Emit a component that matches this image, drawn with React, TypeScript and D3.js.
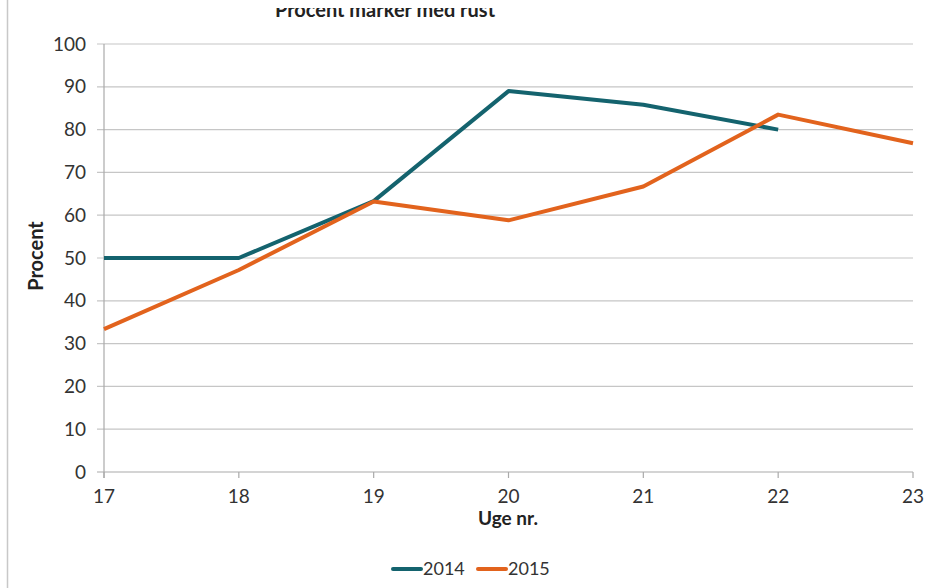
import React from "react";
import * as d3 from "d3";

const weeks = [17, 18, 19, 20, 21, 22, 23];
const yTicks = [0, 10, 20, 30, 40, 50, 60, 70, 80, 90, 100];
const series2014 = [50, 50, 63.3, 89, 85.8, 80];
const series2015 = [33.4, 47.2, 63.2, 58.8, 66.7, 83.5, 76.8];
const seriesNames = ["2014", "2015"];
const colors = ["#14636e", "#e2631d"];
const title = "Procent marker med rust";

export default function App() {
  const W = 926, H = 588;
  const left = 104, right = 913, top = 44, bottom = 472;
  const x = d3.scaleLinear().domain([17, 23]).range([left, right]);
  const y = d3.scaleLinear().domain([0, 100]).range([bottom, top]);
  const line = d3.line<number>().x((_, i) => x(weeks[i])).y((d) => y(d));
  const font = "Lato, 'Open Sans', sans-serif";
  const data = [series2014, series2015];
  return (
    <svg width={W} height={H} style={{ position: "absolute", left: 0, top: 0, background: "#fff" }}>
      <defs>
        <clipPath id="titleClip">
          <rect x={0} y={8} width={W} height={30} />
        </clipPath>
      </defs>
      <line x1={7.5} x2={7.5} y1={0} y2={H} stroke="#c8c8c8" strokeWidth={1.5} />
      <text x={385} y={17} textAnchor="middle" fontFamily={font} fontWeight="bold" fontSize={20} fill="#222" clipPath="url(#titleClip)">{title}</text>
      {yTicks.map((t) => (
        <g key={t}>
          <line x1={left - 7} x2={right} y1={y(t)} y2={y(t)} stroke={t === 0 ? "#aaa" : "#c6c6c6"} strokeWidth={1.2} />
          <text x={86} y={y(t) + 6.5} textAnchor="end" fontFamily={font} fontSize={19} fill="#333">{t}</text>
        </g>
      ))}
      <line x1={left} x2={left} y1={top} y2={bottom + 6} stroke="#aaa" strokeWidth={1.2} />
      {weeks.map((w) => (
        <g key={w}>
          <line x1={x(w)} x2={x(w)} y1={bottom} y2={bottom + 6} stroke="#aaa" strokeWidth={1.2} />
          <text x={x(w)} y={bottom + 31} textAnchor="middle" fontFamily={font} fontSize={19} fill="#333">{w}</text>
        </g>
      ))}
      <text x={508} y={525} textAnchor="middle" fontFamily={font} fontWeight="bold" fontSize={19} fill="#222">Uge nr.</text>
      <text transform={`translate(43,256) rotate(-90)`} textAnchor="middle" fontFamily={font} fontWeight="bold" fontSize={20} fill="#222">Procent</text>
      {data.map((s, i) => (
        <path key={i} d={line(s) || ""} fill="none" stroke={colors[i]} strokeWidth={4} strokeLinejoin="round" />
      ))}
      {seriesNames.map((n, i) => (
        <g key={n} transform={`translate(${393 + i * 85},569)`}>
          <line x1={0} x2={28} y1={0} y2={0} stroke={colors[i]} strokeWidth={4} strokeLinecap="round" />
          <text x={30} y={6} fontFamily={font} fontSize={18} fill="#333">{n}</text>
        </g>
      ))}
    </svg>
  );
}
